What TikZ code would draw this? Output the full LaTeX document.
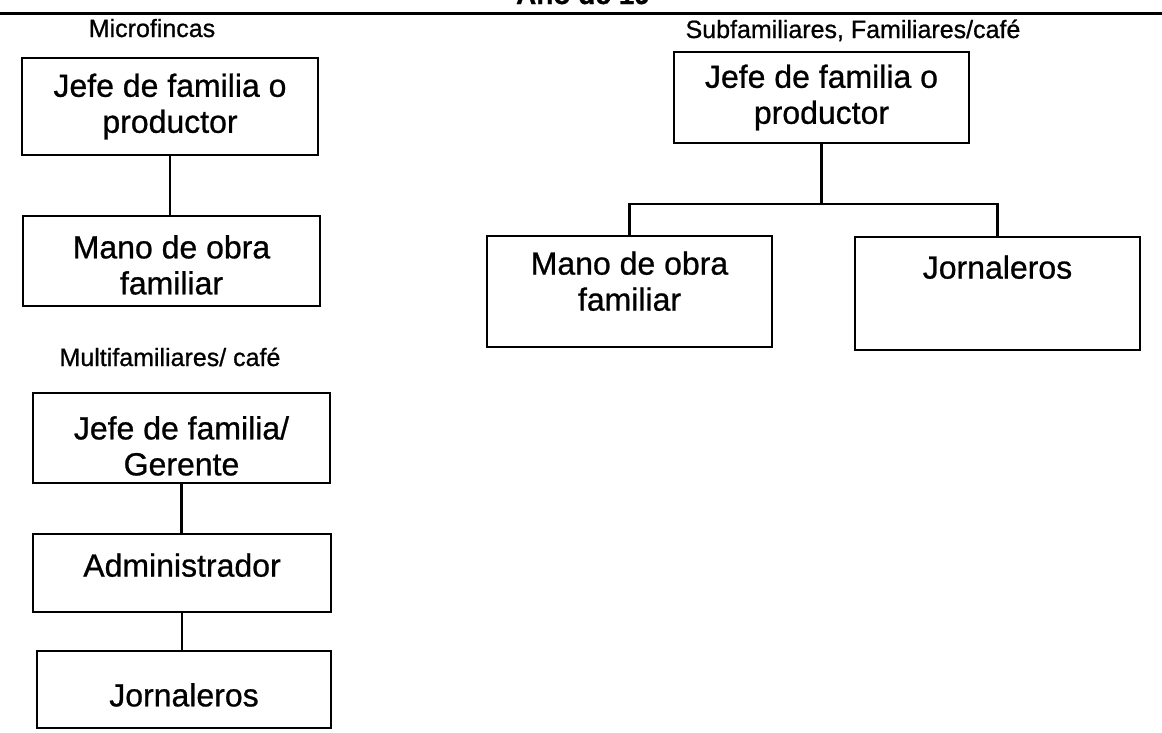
\documentclass[tikz,border=0pt]{standalone}
\usepackage{fontspec}
\setmainfont[FakeBold=0.8]{Liberation Sans}
\usepackage{tikz}

\begin{document}
\begin{tikzpicture}[
			x=1pt, y=-1pt,
			orgbox/.style={rectangle, draw, line width=2.4pt, align=center, inner sep=0pt, font=\fontsize{32}{36}\selectfont},
			grplabel/.style={anchor=base, inner sep=0pt, font=\fontsize{25}{30}\selectfont},
			link/.style={line width=2.2pt}
			]
			
			% Page frame
			\useasboundingbox (0,0) rectangle (1162,732);
			\clip (0,0) rectangle (1162,732);
			
			% Title, cut off by the page edge
			\node[anchor=base, inner sep=0pt, font=\fontsize{28}{30}\selectfont\bfseries] (title) at (583,4) {Año de 19};
			\draw[line width=3pt] (0,13) -- (1162,13);
			
			% Group labels
			\node[grplabel] (microLbl) at (152,37) {Microfincas};
			\node[grplabel] (subLbl) at (853,38) {Subfamiliares, Familiares/café};
			\node[grplabel] (multiLbl) at (170,366) {Multifamiliares/ café};
			
			% Microfincas
			\node[orgbox, minimum width=296pt, minimum height=97pt] (jefeMicro) at (170,106.5) {Jefe de familia o\\productor};
			\node[orgbox, minimum width=297pt, minimum height=90pt] (manoMicro) at (171.5,261) {\mbox{}\\[-5pt]Mano de obra\\familiar};
			
			% Multifamiliares
			\node[orgbox, minimum width=297pt, minimum height=90pt] (jefeMulti) at (181.5,438) {\mbox{}\\[3pt]Jefe de familia/\\Gerente};
			\node[orgbox, minimum width=298pt, minimum height=78pt] (adminMulti) at (182,573) {Administrador\\[-20pt]\mbox{}};
			\node[orgbox, minimum width=294pt, minimum height=77pt] (jorMulti) at (184,689.5) {\mbox{}\\[-2pt]Jornaleros};
			
			% Subfamiliares, Familiares
			\node[orgbox, minimum width=295pt, minimum height=91pt] (jefeSub) at (821.5,97.5) {Jefe de familia o\\productor};
			\node[orgbox, minimum width=285pt, minimum height=111pt] (manoSub) at (629.5,291.5) {Mano de obra\\familiar\\[-15pt]\mbox{}};
			\node[orgbox, minimum width=285pt, minimum height=113pt] (jorSub) at (997.5,293.5) {Jornaleros\\[17pt]\mbox{}};
			\coordinate (fork) at (821.5,204);
			
			% Links
			\draw[link] (jefeMicro.south) -- (jefeMicro.south |- manoMicro.north);
			\draw[link] (jefeMulti.south) -- (jefeMulti.south |- adminMulti.north);
			\draw[link] (adminMulti.south) -- (adminMulti.south |- jorMulti.north);
			\draw[link] (jefeSub.south) -- (fork);
			\draw[link] (manoSub.north) |- (fork) -| (jorSub.north);
			
		\end{tikzpicture}
\end{document}
